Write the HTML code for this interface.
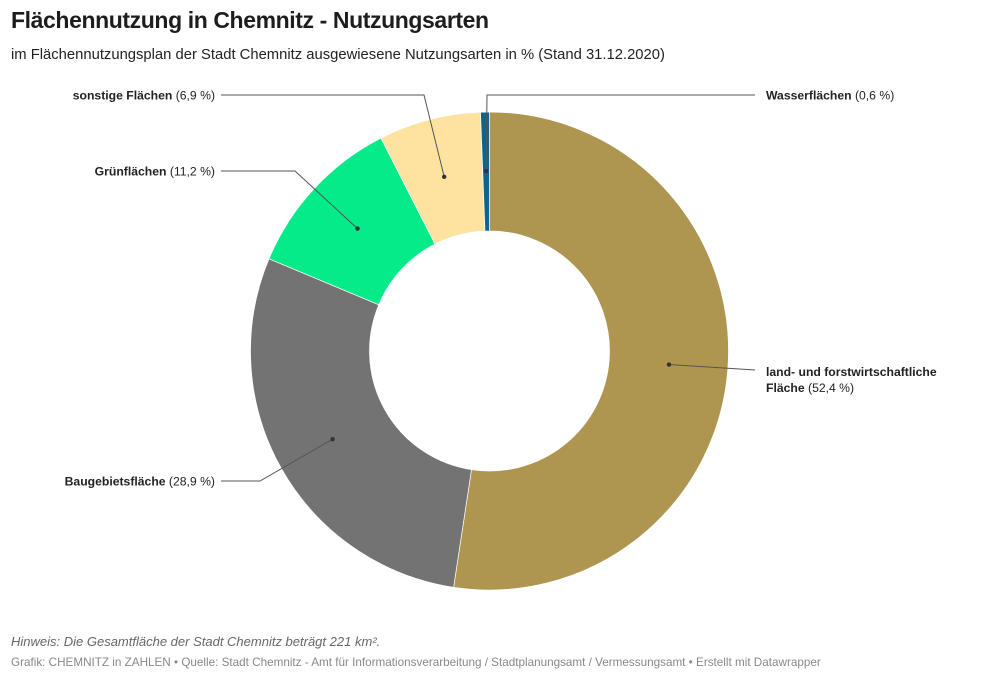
<!DOCTYPE html>
<html><head><meta charset="utf-8"><style>
body{margin:0;background:#fff;font-family:"Liberation Sans",sans-serif;}
#wrap{position:relative;width:981px;height:682px;overflow:hidden;}
h1{position:absolute;left:11px;top:7px;margin:0;font-size:23px;font-weight:bold;color:#1d1d1d;letter-spacing:-0.4px}
.sub{position:absolute;left:11px;top:47px;font-size:14.8px;color:#222}
.note{position:absolute;left:11px;top:634px;font-size:13px;font-style:italic;color:#666}
.foot{position:absolute;left:11px;top:656px;font-size:11.7px;color:#888}
svg{position:absolute;left:0;top:0}
text{font-family:"Liberation Sans",sans-serif;font-size:12.2px;fill:#222}
</style></head><body>
<div id="wrap">
<h1>Flächennutzung in Chemnitz - Nutzungsarten</h1>
<div class="sub">im Flächennutzungsplan der Stadt Chemnitz ausgewiesene Nutzungsarten in % (Stand 31.12.2020)</div>
<svg id="chart" width="981" height="682"></svg>
<div class="note">Hinweis: Die Gesamtfläche der Stadt Chemnitz beträgt 221 km².</div>
<div class="foot">Grafik: CHEMNITZ in ZAHLEN • Quelle: Stadt Chemnitz - Amt für Informationsverarbeitung / Stadtplanungsamt / Vermessungsamt • Erstellt mit Datawrapper</div>
</div>
<script>
const categories=["land- und forstwirtschaftliche Fläche","Baugebietsfläche","Grünflächen","sonstige Flächen","Wasserflächen"];
const values=[52.4,28.9,11.2,6.9,0.6];
const labelText=["52,4 %","28,9 %","11,2 %","6,9 %","0,6 %"];
const colors=["#ae9651","#737373","#05eb8a","#fde39f","#0b6591"];
const NS="http://www.w3.org/2000/svg";
const svg=document.getElementById('chart');
const cx=489.5,cy=351,R=239,r=120;
function pt(a,rad){return [cx+rad*Math.sin(a),cy-rad*Math.cos(a)];}
function mk(t,attrs){const e=document.createElementNS(NS,t);for(const k in attrs)e.setAttribute(k,attrs[k]);svg.appendChild(e);return e;}
const total=values.reduce((a,b)=>a+b,0);
let acc=0;const mids=[];
values.forEach((v,i)=>{
 const a0=acc/total*2*Math.PI;acc+=v;const a1=acc/total*2*Math.PI;
 const large=(a1-a0)>Math.PI?1:0;
 const p0=pt(a0,R),p1=pt(a1,R),q1=pt(a1,r),q0=pt(a0,r);
 const p=mk('path',{d:`M${p0[0]},${p0[1]}A${R},${R} 0 ${large} 1 ${p1[0]},${p1[1]}L${q1[0]},${q1[1]}A${r},${r} 0 ${large} 0 ${q0[0]},${q0[1]}Z`,fill:colors[i],stroke:'#fff','stroke-width':0.7});
 
 
 mids.push((a0+a1)/2);
});
const lay=[["right",370,755],["left",481,260],["left",171,295],["left",95,424],["right",95,487]];
values.forEach((v,i)=>{
 const d=pt(mids[i],180);
 const [side,ly,ex]=lay[i];
 let pts;
 if(side==="left") pts=`${d[0]},${d[1]} ${ex},${ly} 221,${ly}`;
 else if(i===0) pts=`${d[0]},${d[1]} 755,${ly}`;
 else pts=`${d[0]},${d[1]} ${ex},${ly} 755,${ly}`;
 const l=mk('polyline',{points:pts,fill:'none',stroke:'#555','stroke-width':1});
 
 
 const c=mk('circle',{cx:d[0],cy:d[1],r:2.2,fill:'#333'});
 
 
 if(i===0){
  const t=mk('text',{x:766,y:376});
  t.innerHTML=`<tspan font-weight="bold">land- und forstwirtschaftliche</tspan><tspan x="766" dy="16" font-weight="bold">Fläche</tspan> (${labelText[i]})`;
  
  
 } else {
  const t=mk('text',{x:side==="left"?215:766,y:ly+4.5,'text-anchor':side==="left"?'end':'start'});
  t.innerHTML=`<tspan font-weight="bold">${categories[i]}</tspan> (${labelText[i]})`;
  
  
 }
});
</script>
</body></html>
